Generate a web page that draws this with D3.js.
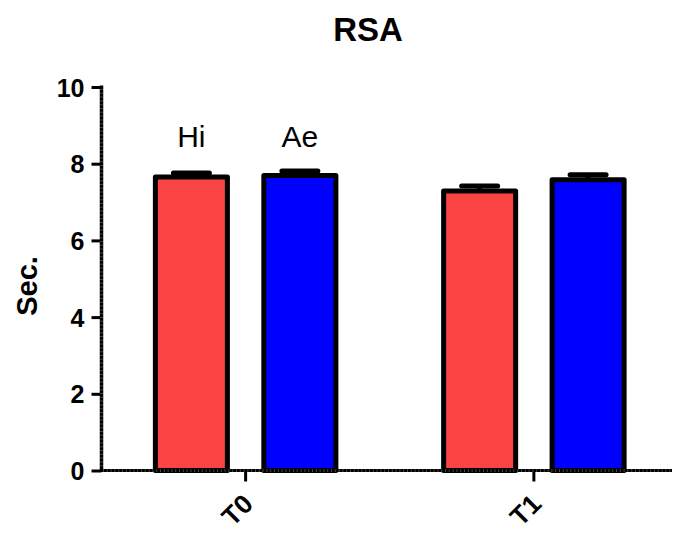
<!DOCTYPE html>
<html>
<head>
<meta charset="utf-8">
<script src="https://cdn.jsdelivr.net/npm/d3@7"></script>
<style>
  html, body { margin: 0; padding: 0; background: #fff; }
  svg { display: block; font-family: Arial, "Liberation Sans", sans-serif; }
</style>
</head>
<body>
<svg id="chart" width="674" height="533"></svg>
<script>
// Time points and groups
const timepoints = ["T0", "T1"];
const groups = ["Hi", "Ae"];
// Mean RSA time (s) per group, by time point
const hiMeans = [7.65, 7.29];
const aeMeans = [7.69, 7.58];
// Standard error of the mean
const hiSEM = [0.11, 0.13];
const aeSEM = [0.12, 0.13];
const yTicks = [0, 2, 4, 6, 8, 10];

const colors = { Hi: "#FA4343", Ae: "#0000FF" };

const rows = timepoints.map((t, i) => ({
  t,
  bars: [
    { g: "Hi", v: hiMeans[i], e: hiSEM[i] },
    { g: "Ae", v: aeMeans[i], e: aeSEM[i] }
  ]
}));

const svg = d3.select("#chart");

const y = d3.scaleLinear().domain([0, 10]).range([470.5, 87]);
const x0 = d3.scaleBand().domain(timepoints).range([101.5, 678]).padding(0);
const x1 = d3.scaleBand().domain(groups).range([0, 180.5]).paddingInner(0.336).paddingOuter(0);
const groupOffset = x0.bandwidth() / 2 - 90.25;

// Title
svg.append("text")
  .attr("x", 368).attr("y", 41)
  .attr("text-anchor", "middle")
  .attr("font-size", 33).attr("font-weight", "bold")
  .text("RSA");

// Y axis title
svg.append("text")
  .attr("transform", "translate(37,286) rotate(-90)")
  .attr("text-anchor", "middle")
  .attr("font-size", 29).attr("font-weight", "bold")
  .text("Sec.");

// Bars
const g = svg.append("g");
const grp = g.selectAll("g.tp").data(rows).join("g")
  .attr("class", "tp")
  .attr("transform", d => `translate(${x0(d.t) + groupOffset},0)`);

// Error bars (upper only)
grp.selectAll("g.err").data(d => d.bars).join("g")
  .attr("class", "err")
  .each(function (d) {
    const cx = x1(d.g) + x1.bandwidth() / 2;
    const sel = d3.select(this);
    sel.append("line")
      .attr("x1", cx).attr("x2", cx)
      .attr("y1", y(d.v)).attr("y2", y(d.v + d.e))
      .attr("stroke", "#000").attr("stroke-width", 5);
    sel.append("line")
      .attr("x1", cx - 18).attr("x2", cx + 18)
      .attr("y1", y(d.v + d.e)).attr("y2", y(d.v + d.e))
      .attr("stroke", "#000").attr("stroke-width", 5)
      .attr("stroke-linecap", "round");
  });

grp.selectAll("rect").data(d => d.bars).join("rect")
  .attr("x", d => x1(d.g))
  .attr("y", d => y(d.v))
  .attr("width", x1.bandwidth())
  .attr("height", d => y(0) - y(d.v))
  .attr("fill", d => colors[d.g])
  .attr("stroke", "#000")
  .attr("stroke-width", 5)
  .attr("stroke-linejoin", "round");

// Group labels above the first pair of bars
svg.selectAll("text.grp").data(rows[0].bars).join("text")
  .attr("class", "grp")
  .attr("x", d => x0(rows[0].t) + groupOffset + x1(d.g) + x1.bandwidth() / 2)
  .attr("y", 146.5)
  .attr("text-anchor", "middle")
  .attr("font-size", 30)
  .text(d => d.g);

// Y axis
const yAxis = svg.append("g")
  .attr("transform", "translate(101.5,0)")
  .call(d3.axisLeft(y).tickValues(yTicks).tickSize(10).tickPadding(7).tickFormat(d3.format("d")));
yAxis.select(".domain").remove();
yAxis.selectAll(".tick line").attr("stroke", "#000").attr("stroke-width", 3);
yAxis.selectAll(".tick text")
  .attr("font-size", 25).attr("font-weight", "bold")
  .attr("font-family", "Arial, 'Liberation Sans', sans-serif")
  .attr("fill", "#000").attr("dy", "0.36em");
yAxis.append("line")
  .attr("x1", 0).attr("x2", 0).attr("y1", y(10) - 1.5).attr("y2", y(0) + 1.5)
  .attr("stroke", "#000").attr("stroke-width", 3.5);
yAxis.append("line")
  .attr("x1", 0).attr("x2", 0).attr("y1", y(10) + 2).attr("y2", y(0))
  .attr("stroke", "#888").attr("stroke-width", 3).attr("stroke-dasharray", "1 2.8")
  .attr("opacity", 0.5);

// X axis
const xAxis = svg.append("g")
  .attr("transform", `translate(0,${y(0)})`)
  .call(d3.axisBottom(x0).tickSize(11).tickPadding(0).tickFormat(""));
xAxis.select(".domain").remove();
xAxis.selectAll(".tick line").attr("stroke", "#000").attr("stroke-width", 3);
xAxis.append("line")
  .attr("x1", 100).attr("x2", 672).attr("y1", 0).attr("y2", 0)
  .attr("stroke", "#000").attr("stroke-width", 3);
xAxis.append("line")
  .attr("x1", 103).attr("x2", 672).attr("y1", 0).attr("y2", 0)
  .attr("stroke", "#888").attr("stroke-width", 3).attr("stroke-dasharray", "1 2.8")
  .attr("opacity", 0.5);

// Rotated category labels
svg.selectAll("text.cat").data(timepoints).join("text")
  .attr("class", "cat")
  .attr("transform", d => `translate(${x0(d) + x0.bandwidth() / 2 + 9},${y(0) + 35}) rotate(-45)`)
  .attr("text-anchor", "end")
  .attr("font-size", 26.5).attr("font-weight", "bold")
  .text(d => d);
</script>
</body>
</html>
